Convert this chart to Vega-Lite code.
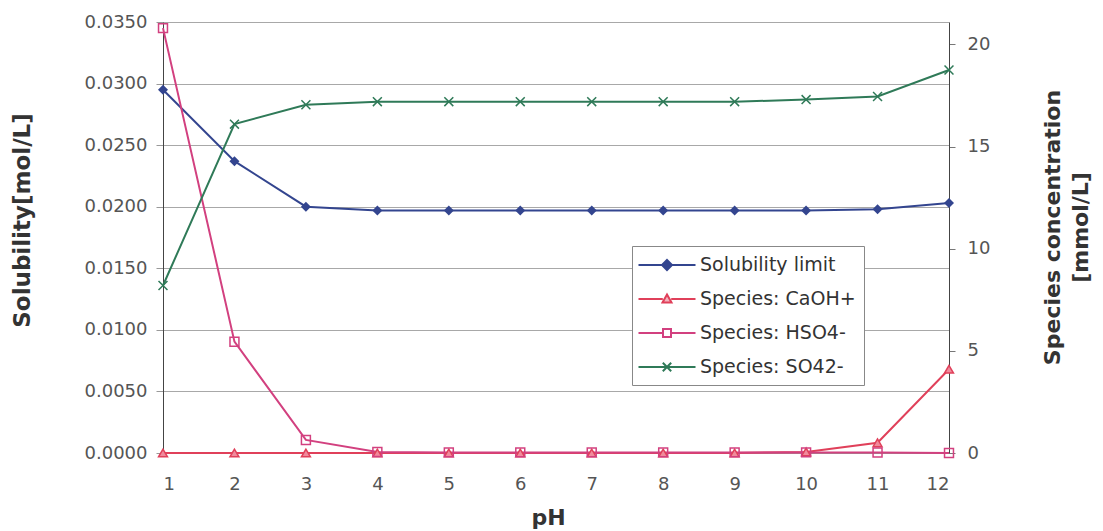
{
  "$schema": "https://vega.github.io/schema/vega-lite/v6.json",
  "width": 786,
  "height": 431,
  "autosize": {"type": "none"},
  "padding": {"left": 163, "top": 22, "right": 154, "bottom": 78},
  "background": "white",
  "config": {
    "view": {"stroke": null},
    "font": "DejaVu Sans",
    "axis": {"labelFont": "DejaVu Sans", "titleFont": "DejaVu Sans"}
  },
  "data": {
    "values": [
      {"pH": 1, "series": "Solubility limit", "value": 0.0295},
      {"pH": 2, "series": "Solubility limit", "value": 0.0237},
      {"pH": 3, "series": "Solubility limit", "value": 0.0200},
      {"pH": 4, "series": "Solubility limit", "value": 0.0197},
      {"pH": 5, "series": "Solubility limit", "value": 0.0197},
      {"pH": 6, "series": "Solubility limit", "value": 0.0197},
      {"pH": 7, "series": "Solubility limit", "value": 0.0197},
      {"pH": 8, "series": "Solubility limit", "value": 0.0197},
      {"pH": 9, "series": "Solubility limit", "value": 0.0197},
      {"pH": 10, "series": "Solubility limit", "value": 0.0197},
      {"pH": 11, "series": "Solubility limit", "value": 0.0198},
      {"pH": 12, "series": "Solubility limit", "value": 0.0203},
      {"pH": 1, "series": "Species: CaOH+", "value": 0},
      {"pH": 2, "series": "Species: CaOH+", "value": 0},
      {"pH": 3, "series": "Species: CaOH+", "value": 0},
      {"pH": 4, "series": "Species: CaOH+", "value": 0},
      {"pH": 5, "series": "Species: CaOH+", "value": 0},
      {"pH": 6, "series": "Species: CaOH+", "value": 0},
      {"pH": 7, "series": "Species: CaOH+", "value": 0},
      {"pH": 8, "series": "Species: CaOH+", "value": 0},
      {"pH": 9, "series": "Species: CaOH+", "value": 0},
      {"pH": 10, "series": "Species: CaOH+", "value": 0.05},
      {"pH": 11, "series": "Species: CaOH+", "value": 0.5},
      {"pH": 12, "series": "Species: CaOH+", "value": 4.1},
      {"pH": 1, "series": "Species: HSO4-", "value": 20.8},
      {"pH": 2, "series": "Species: HSO4-", "value": 5.45},
      {"pH": 3, "series": "Species: HSO4-", "value": 0.64},
      {"pH": 4, "series": "Species: HSO4-", "value": 0.05},
      {"pH": 5, "series": "Species: HSO4-", "value": 0.03},
      {"pH": 6, "series": "Species: HSO4-", "value": 0.03},
      {"pH": 7, "series": "Species: HSO4-", "value": 0.03},
      {"pH": 8, "series": "Species: HSO4-", "value": 0.03},
      {"pH": 9, "series": "Species: HSO4-", "value": 0.03},
      {"pH": 10, "series": "Species: HSO4-", "value": 0.03},
      {"pH": 11, "series": "Species: HSO4-", "value": 0.02},
      {"pH": 12, "series": "Species: HSO4-", "value": 0},
      {"pH": 1, "series": "Species: SO42-", "value": 8.2},
      {"pH": 2, "series": "Species: SO42-", "value": 16.1},
      {"pH": 3, "series": "Species: SO42-", "value": 17.05},
      {"pH": 4, "series": "Species: SO42-", "value": 17.2},
      {"pH": 5, "series": "Species: SO42-", "value": 17.2},
      {"pH": 6, "series": "Species: SO42-", "value": 17.2},
      {"pH": 7, "series": "Species: SO42-", "value": 17.2},
      {"pH": 8, "series": "Species: SO42-", "value": 17.2},
      {"pH": 9, "series": "Species: SO42-", "value": 17.2},
      {"pH": 10, "series": "Species: SO42-", "value": 17.3},
      {"pH": 11, "series": "Species: SO42-", "value": 17.45},
      {"pH": 12, "series": "Species: SO42-", "value": 18.75}
    ]
  },
  "encoding": {
    "x": {
      "field": "pH",
      "type": "quantitative",
      "scale": {"domain": [1, 12], "nice": false, "zero": false},
      "axis": {
        "values": [1, 2, 3, 4, 5, 6, 7, 8, 9, 10, 11, 12],
        "grid": false,
        "ticks": false,
        "labelFontSize": 18,
        "labelColor": "#555",
        "labelPadding": 22,
        "domainColor": "#999",
        "title": "pH",
        "titleFontSize": 22,
        "titleFontWeight": "bold",
        "titleColor": "#333",
        "titleX": 385,
        "titleY": 64,
        "titleBaseline": "middle"
      }
    },
    "color": {
      "field": "series",
      "type": "nominal",
      "scale": {
        "domain": ["Solubility limit", "Species: CaOH+", "Species: HSO4-", "Species: SO42-"],
        "range": ["#33458f", "#e0405a", "#d2407f", "#2f7a58"]
      },
      "legend": {
        "title": null,
        "orient": "none",
        "legendX": 469,
        "legendY": 224,
        "padding": 8,
        "strokeColor": "#888",
        "fillColor": "white",
        "symbolSize": 400,
        "symbolOffset": 16,
        "symbolStrokeWidth": 2,
        "symbolOpacity": 1,
        "labelFontSize": 19,
        "labelColor": "#333",
        "labelFont": "DejaVu Sans",
        "labelOffset": 22,
        "rowPadding": 13,
        "encode": {
          "symbols": {
            "update": {
              "shape": {"signal": "datum.value === 'Solubility limit' ? 'M-2.85,0L2.85,0M0,-0.5L0.5,0L0,0.5L-0.5,0Z' : datum.value === 'Species: CaOH+' ? 'M-2.85,0L-0.42,0M0.42,0L2.85,0M0,-0.45L0.45,0.35L-0.45,0.35Z' : datum.value === 'Species: HSO4-' ? 'M-2.85,0L-0.4,0M0.4,0L2.85,0M-0.4,-0.4L0.4,-0.4L0.4,0.4L-0.4,0.4Z' : 'M-2.85,0L2.85,0M-0.42,-0.42L0.42,0.42M-0.42,0.42L0.42,-0.42'"},
              "stroke": {"signal": "scale('color', datum.value)"},
              "fillOpacity": {"signal": "datum.value === 'Solubility limit' ? 1 : datum.value === 'Species: CaOH+' ? 0.4 : 0"},
              "strokeWidth": {"value": 2},
              "opacity": {"value": 1}
            }
          }
        }
      }
    }
  },
  "layer": [
    {
      "transform": [{"filter": "datum.series === 'Solubility limit'"}],
      "encoding": {
        "y": {
          "field": "value",
          "type": "quantitative",
          "scale": {"domain": [0, 0.035], "nice": false},
          "axis": {
            "title": "Solubility[mol/L]",
            "values": [0, 0.005, 0.01, 0.015, 0.02, 0.025, 0.03, 0.035],
            "format": ".4f",
            "grid": true,
            "gridColor": "#a8a8a8",
            "gridWidth": 1,
            "domainColor": "#444",
            "tickColor": "#999",
            "tickSize": 7,
            "labelFontSize": 18,
            "labelColor": "#555",
            "labelPadding": 9,
            "titleFontSize": 23,
            "titleFontWeight": "bold",
            "titleColor": "#333",
            "titleX": -141,
            "titleY": 198,
            "titleAngle": 270,
            "titleAlign": "center",
            "titleBaseline": "middle"
          }
        }
      },
      "layer": [
        {"mark": {"type": "line", "strokeWidth": 2}},
        {
          "mark": {"type": "point", "filled": true, "shape": "diamond", "size": 100, "opacity": 1}
        }
      ]
    },
    {
      "transform": [{"filter": "datum.series !== 'Solubility limit'"}],
      "encoding": {
        "y": {
          "field": "value",
          "type": "quantitative",
          "scale": {"domain": [0, 21.1], "nice": false},
          "axis": {
            "orient": "right",
            "title": ["Species concentration", "[mmol/L]"],
            "values": [0, 5, 10, 15, 20],
            "grid": false,
            "domainColor": "#444",
            "tickColor": "#777",
            "tickSize": 6,
            "labelFontSize": 18,
            "labelColor": "#555",
            "labelPadding": 12,
            "titleFontSize": 22,
            "titleFontWeight": "bold",
            "titleColor": "#333",
            "titleX": 103,
            "titleY": 205,
            "titleAngle": 270,
            "titleAlign": "center",
            "titleBaseline": "middle",
            "titleLineHeight": 28
          }
        }
      },
      "layer": [
        {"mark": {"type": "line", "strokeWidth": 2}},
        {
          "mark": {"type": "point", "filled": false, "strokeWidth": 1.5, "size": 80, "opacity": 1},
          "encoding": {
            "shape": {
              "field": "series",
              "type": "nominal",
              "scale": {
                "domain": ["Species: CaOH+", "Species: HSO4-", "Species: SO42-"],
                "range": ["triangle-up", "square", "M-1,-1L1,1M-1,1L1,-1"]
              },
              "legend": null
            },
            "fill": {
              "field": "series",
              "type": "nominal",
              "scale": {
                "domain": ["Species: CaOH+", "Species: HSO4-", "Species: SO42-"],
                "range": ["#f08a9c", "transparent", "transparent"]
              },
              "legend": null
            }
          }
        }
      ]
    }
  ],
  "resolve": {"scale": {"y": "independent"}}
}
